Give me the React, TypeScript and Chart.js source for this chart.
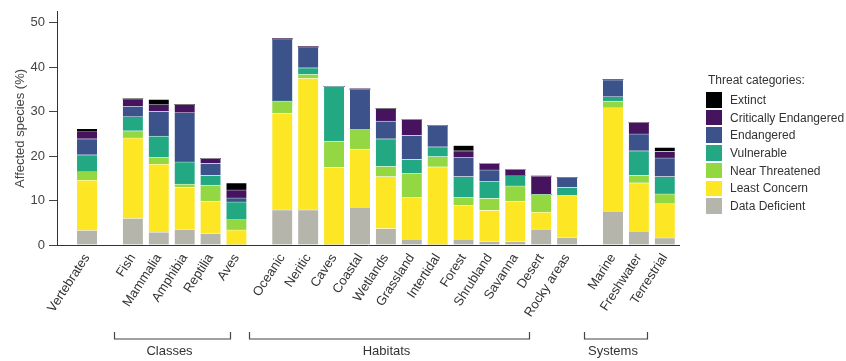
import { useEffect, useRef } from 'react';
import { Chart, registerables } from 'chart.js';

Chart.register(...registerables);

// ---------- data ----------
const categories = [
  'Vertebrates',
  'Fish', 'Mammalia', 'Amphibia', 'Reptilia', 'Aves',
  'Oceanic', 'Neritic', 'Caves', 'Coastal', 'Wetlands', 'Grassland', 'Intertidal',
  'Forest', 'Shrubland', 'Savanna', 'Desert', 'Rocky areas',
  'Marine', 'Freshwater', 'Terrestrial',
];
const groupOf = [0, 1, 1, 1, 1, 1, 2, 2, 2, 2, 2, 2, 2, 2, 2, 2, 2, 2, 3, 3, 3];
const groupNames = ['', 'Classes', 'Habitats', 'Systems'];

const dataDeficient = [3.3, 6.0, 2.9, 3.5, 2.6, 0, 7.9, 7.9, 0, 8.5, 3.7, 1.3, 0, 1.3, 0.8, 0.8, 3.6, 1.7, 7.6, 3.1, 1.6];
const leastConcern = [11.3, 18.1, 15.3, 9.5, 7.3, 3.4, 21.8, 29.6, 17.5, 13.1, 11.7, 9.4, 17.6, 7.6, 7.0, 9.1, 3.8, 9.5, 23.3, 10.9, 7.7];
const nearThreatened = [1.9, 1.6, 1.5, 0.7, 3.6, 2.3, 2.7, 0.9, 5.9, 4.4, 2.3, 5.4, 2.3, 1.8, 2.7, 3.4, 4.0, 0, 1.5, 1.7, 2.2];
const vulnerable = [3.8, 3.2, 4.8, 5.0, 2.2, 4.0, 0, 1.5, 12.3, 0, 6.2, 3.2, 2.2, 4.7, 3.8, 2.3, 0, 1.8, 1.0, 5.5, 3.9];
const endangered = [3.6, 2.3, 5.6, 11.1, 2.7, 0.9, 14.0, 4.7, 0, 9.1, 4.0, 5.4, 4.8, 4.3, 2.6, 0, 0, 2.2, 3.8, 3.8, 4.2];
const criticallyEndangered = [1.6, 1.7, 1.5, 1.8, 1.1, 1.8, 0, 0, 0, 0, 2.8, 3.5, 0, 1.5, 1.5, 1.4, 4.1, 0, 0, 2.6, 1.5];
const extinct = [0.7, 0, 1.2, 0, 0, 1.6, 0, 0, 0, 0, 0, 0, 0, 1.2, 0, 0, 0, 0, 0, 0, 0.9];

const yTicks = [0, 10, 20, 30, 40, 50];
const yTitle = 'Affected species (%)';
const legendTitle = 'Threat categories:';

// ---------- styles ----------
const FONT = '"Liberation Sans", Arial, Helvetica, sans-serif';
const GROUP_GAP = 0.77;
const X_MIN = -1.16;
const X_MAX = 22.86;
const Y_MAX = 52.5;
// bracket end offsets (in category units) relative to first / last bar of each group
const bracketInset: Array<[number, number]> = [[0, 0], [-0.73, -0.23], [-1.27, -1.47], [-1.12, -0.69]];

const series = [
  { label: 'Data Deficient', data: dataDeficient, color: '#b5b5ac' },
  { label: 'Least Concern', data: leastConcern, color: '#fde725' },
  { label: 'Near Threatened', data: nearThreatened, color: '#93d742' },
  { label: 'Vulnerable', data: vulnerable, color: '#23a884' },
  { label: 'Endangered', data: endangered, color: '#3b528b' },
  { label: 'Critically Endangered', data: criticallyEndangered, color: '#46135f' },
  { label: 'Extinct', data: extinct, color: '#000000' },
];

const positions = categories.map((_, i) => i + groupOf[i] * GROUP_GAP);

export default function App() {
  const ref = useRef<HTMLCanvasElement>(null);

  useEffect(() => {
    if (!ref.current) return;
    const bracketPlugin = {
      id: 'groupBrackets',
      afterDraw(chart: any) {
        const { ctx } = chart;
        const xs = chart.scales.x;
        ctx.save();
        groupNames.forEach((name, g) => {
          if (!name) return;
          const idx = categories.map((_, i) => i).filter((i) => groupOf[i] === g);
          const first = positions[idx[0]];
          const last = positions[idx[idx.length - 1]];
          const x1 = Math.round(xs.getPixelForValue(first + bracketInset[g][0])) + 0.5;
          const x2 = Math.round(xs.getPixelForValue(last + bracketInset[g][1])) + 0.5;
          ctx.strokeStyle = '#444';
          ctx.lineWidth = 1.2;
          ctx.beginPath();
          ctx.moveTo(x1, 332);
          ctx.lineTo(x1, 339);
          ctx.lineTo(x2, 339);
          ctx.lineTo(x2, 332);
          ctx.stroke();
          ctx.fillStyle = '#333';
          ctx.font = `13px ${FONT}`;
          ctx.textAlign = 'center';
          ctx.textBaseline = 'middle';
          ctx.fillText(name, (x1 + x2) / 2 - 3, 351);
        });
        ctx.restore();
      },
    };

    const chart = new Chart(ref.current, {
      type: 'bar',
      data: {
        datasets: series.map((s) => ({
          label: s.label,
          data: s.data.map((v, i) => ({ x: positions[i], y: v })),
          backgroundColor: s.color,
          borderColor: 'rgba(255,255,255,0.55)',
          borderWidth: { top: 0.7, left: 0, right: 0, bottom: 0 },
          borderSkipped: false,
          barThickness: 20,
        })),
      },
      options: {
        responsive: false,
        animation: false,
        layout: { padding: { top: 7, right: 846 - 679, left: 0, bottom: 0 } },
        plugins: { legend: { display: false }, tooltip: { enabled: false } },
        scales: {
          x: {
            type: 'linear',
            stacked: true,
            offset: false,
            min: X_MIN,
            max: X_MAX,
            afterBuildTicks: (axis: any) => {
              axis.ticks = positions.map((p) => ({ value: p }));
            },
            afterFit: (axis: any) => {
              axis.height = 361 - 245;
            },
            grid: { display: false, drawTicks: false, offset: false },
            border: { display: true, color: '#333', width: 1 },
            ticks: {
              autoSkip: false,
              minRotation: 57,
              maxRotation: 57,
              padding: 6,
              color: '#333',
              font: { family: FONT, size: 13 },
              callback: (_v: any, i: number) => categories[i],
            },
          },
          y: {
            stacked: true,
            min: 0,
            max: Y_MAX,
            afterBuildTicks: (axis: any) => {
              axis.ticks = yTicks.map((v) => ({ value: v }));
            },
            afterFit: (axis: any) => {
              axis.width = 57;
            },
            grid: { drawOnChartArea: false, drawTicks: true, tickLength: 8, color: '#444' },
            border: { display: true, color: '#333', width: 1 },
            ticks: { padding: 4, color: '#444', font: { family: FONT, size: 13 } },
            title: {
              display: true,
              text: yTitle,
              color: '#444',
              font: { family: FONT, size: 13 },
              padding: { top: 13, bottom: 0 },
            },
          },
        },
      },
      plugins: [bracketPlugin],
    } as any);
    return () => chart.destroy();
  }, []);

  const legendItems = [...series].reverse();

  return (
    <div style={{ position: 'absolute', left: 0, top: 0, width: 846, height: 361, fontFamily: FONT }}>
      <canvas ref={ref} width={846} height={361} style={{ display: 'block' }} />
      <div style={{ position: 'absolute', left: 708, top: 73, fontSize: 12, lineHeight: '14px', color: '#333', whiteSpace: 'nowrap' }}>
        {legendTitle}
      </div>
      <div style={{ position: 'absolute', left: 706, top: 91 }}>
        {legendItems.map((s) => (
          <div key={s.label} style={{ display: 'flex', alignItems: 'center', height: 17.7 }}>
            <div style={{ width: 16, height: 15.5, background: s.color }} />
            <span style={{ marginLeft: 8, fontSize: 12, color: '#333', whiteSpace: 'nowrap' }}>{s.label}</span>
          </div>
        ))}
      </div>
    </div>
  );
}
